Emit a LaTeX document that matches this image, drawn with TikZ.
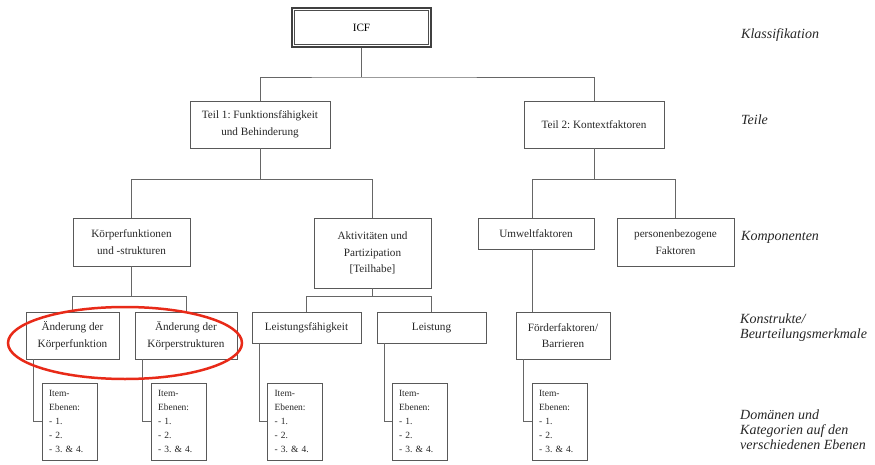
\documentclass[tikz,border=0pt]{standalone}
\usepackage{tikz}
\usepackage{fontspec}
\setmainfont{Liberation Serif}
\usetikzlibrary{calc,positioning}
\definecolor{markred}{RGB}{232,42,24}
\frenchspacing

\begin{document}
\begin{tikzpicture}[x=1pt,y=-1pt,
	box/.style={draw=black!65,semithick,text=black!85,align=center,inner sep=2pt,
		font=\fontsize{11.2}{16.5}\selectfont},
	itembox/.style={draw=black!65,semithick,text=black!85,align=left,inner sep=7pt,
		text width=41pt,minimum height=77pt,font=\fontsize{9.5}{14}\selectfont},
	level/.style={anchor=west,align=left,inner sep=0pt,text=black!85,
		font=\fontsize{14}{15}\selectfont\itshape},
	tree/.style={draw=black!60,semithick}]

	\useasboundingbox (0,0) rectangle (875,465);

	%Klassifikation
	\node [box,draw=black!75,line width=2pt,minimum width=139pt,minimum height=39pt,text=black] (icf) at (361.5,27.5) {ICF};
	\draw [black!70] ([shift={(3.5,3.5)}]icf.north west) rectangle ([shift={(-3.5,-3.5)}]icf.south east);

	%Teile
	\node [box,minimum width=140pt,minimum height=47pt] (teil1) at (260,124.5) {Teil 1: Funktionsf\"ahigkeit\\und Behinderung};
	\node [box,minimum width=140pt,minimum height=47pt] (teil2) at (594,124.5) {Teil 2: Kontextfaktoren};

	%Komponenten
	\node [box,minimum width=117pt,minimum height=48pt] (koerper) at (131.5,242) {K\"orperfunktionen\\und -strukturen};
	\node [box,minimum width=117pt,minimum height=70pt] (aktiv) at (372.5,253) {Aktivit\"aten und\\Partizipation\\{[Teilhabe]}};
	\node [box,minimum width=116pt,minimum height=31pt] (umwelt) at (536,233.5) {Umweltfaktoren};
	\node [box,minimum width=117pt,minimum height=48pt] (person) at (675.5,242) {personenbezogene\\Faktoren};

	%Konstrukte
	\node [box,minimum width=93pt,minimum height=47pt] (aendf) at (72.5,335.5) {\"Anderung der\\K\"orperfunktion};
	\node [box,minimum width=102pt,minimum height=47pt] (aends) at (186,335.5) {\"Anderung der\\K\"orperstrukturen};
	\node [box,minimum width=109pt,minimum height=31pt] (lfaehig) at (306.5,327.5) {Leistungsf\"ahigkeit};
	\node [box,minimum width=109pt,minimum height=31pt] (leist) at (431.5,327.5) {Leistung};
	\node [box,minimum width=94pt,minimum height=47pt] (foerder) at (563,335.5) {F\"orderfaktoren/\\Barrieren};

	%Item-Ebenen
	\node [itembox] (item1) at (69.5,421.5) {Item-\\Ebenen:\\- 1.\\- 2.\\- 3. \& 4.};
	\node [itembox] (item2) at (178.5,421.5) {Item-\\Ebenen:\\- 1.\\- 2.\\- 3. \& 4.};
	\node [itembox] (item3) at (295,421.5) {Item-\\Ebenen:\\- 1.\\- 2.\\- 3. \& 4.};
	\node [itembox] (item4) at (419.5,421.5) {Item-\\Ebenen:\\- 1.\\- 2.\\- 3. \& 4.};
	\node [itembox] (item5) at (559.5,421.5) {Item-\\Ebenen:\\- 1.\\- 2.\\- 3. \& 4.};

	%tree lines
	\coordinate (ux) at (532,0);
	\draw [tree] (icf.south) -- ++(0,29) coordinate (j0);
	\draw [tree] (teil1.north) |- (j0) -| (teil2.north);
	\draw [tree] (teil1.south) -- ++(0,31) coordinate (j1);
	\draw [tree] (koerper.north) |- (j1) -| (aktiv.north);
	\draw [tree] (teil2.south) -- ++(0,31) coordinate (j2);
	\draw [tree] (umwelt.north -| ux) |- (j2) -| (person.north);
	\draw [tree] (koerper.south) -- ++(0,30) coordinate (j3);
	\draw [tree] (aendf.north) |- (j3) -| (aends.north);
	\draw [tree] (aktiv.south) -- ++(0,8) coordinate (j4);
	\draw [tree] (lfaehig.north) |- (j4) -| (leist.north);
	\draw [tree] (umwelt.south -| ux) -- (foerder.north -| ux);
	\foreach \a/\b in {aendf/item1,aends/item2,lfaehig/item3,leist/item4,foerder/item5}
		\draw [tree] ([xshift=7.5pt]\a.south west) |- (\b.west);

	%marking
	\draw [markred,line width=2.5pt] (125,343) ellipse [x radius=117pt,y radius=36pt];

	%Ebenen
	\node [level] (lklass) at (741,35) {Klassifikation};
	\node [level] (lteile) at (741,120) {Teile};
	\node [level] (lkomp) at (741,237) {Komponenten};
	\node [level] (lkonst) at (740,328) {Konstrukte/\\Beurteilungsmerkmale};
	\node [level] (ldom) at (740,430) {Dom\"anen und\\Kategorien auf den\\verschiedenen Ebenen};

\end{tikzpicture}
\end{document}
